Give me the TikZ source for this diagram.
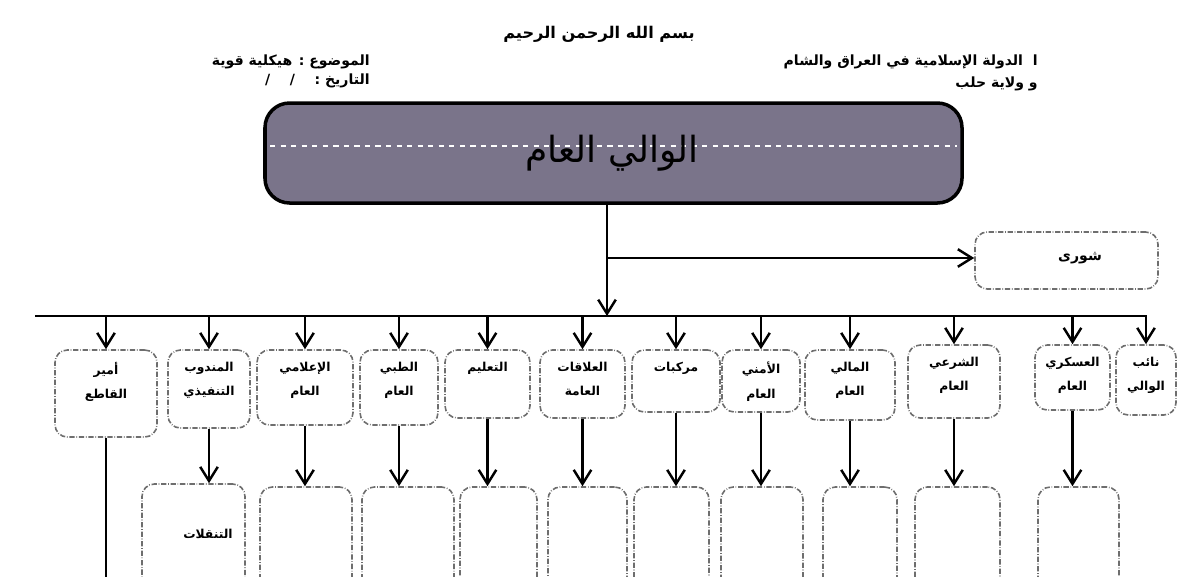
\documentclass[tikz,border=0pt]{standalone}
\usepackage{fontspec}
\usetikzlibrary{positioning,fit,arrows.meta}
\TeXXeTstate=1
\newfontfamily\arabicfont[Script=Arabic]{DejaVu Sans}
\newcommand{\ar}[1]{\beginR #1\endR}
\definecolor{boxgray}{RGB}{110,110,110}
\definecolor{walifill}{RGB}{122,116,138}
\newcommand{\unitbox}[4]{
	\node[unit, fit={#2 #3}] (#1) {};
	\node[unittext, below=6pt of #1.north] (#1-t) {#4};
}

\begin{document}
\begin{tikzpicture}[x=0.02cm,y=-0.02cm,
	unit/.style={draw=boxgray, densely dash dot, line width=0.9pt, rounded corners=7pt, inner sep=0pt},
	unittext/.style={font=\arabicfont\bfseries\fontsize{7}{14}\selectfont, align=center, inner sep=1pt},
	headtext/.style={font=\arabicfont\bfseries\fontsize{8}{10}\selectfont, inner sep=0pt},
	arr/.style={line width=1.4pt, -{Straight Barb[length=8pt,width=10pt]}}]
	\useasboundingbox[fill=white] (0,0) rectangle (1200,576);
	\clip (0,0) rectangle (1200,576);

	% header
	\node[headtext, font=\arabicfont\bfseries\fontsize{9.2}{11}\selectfont] (basmala) at (599,34) {\ar{بسم الله الرحمن الرحيم}};
	\node[headtext, anchor=east] (subject) at (370,62) {\ar{الموضوع : هيكلية قوية}};
	\node[headtext, anchor=east] (date) at (370,81) {\ar{التاريخ :~~~~/~~~~/}};
	\node[headtext, anchor=east] (state) at (1038,62) {\ar{ا~ الدولة الإسلامية في العراق والشام}};
	\node[headtext, anchor=east] (wilaya) at (1038,84) {\ar{و ولاية حلب}};

	% wali
	\node[draw, line width=2pt, fill=walifill, rounded corners=14pt, inner sep=0pt,
		fit={(265,103) (962,203)}] (wali) {};
	\draw[white, dashed, line width=0.8pt] (270,146) -- (957,146);
	\node[font=\arabicfont\fontsize{20.5}{24}\selectfont] (wali-t) at (612,153) {\ar{الوالي العام}};

	% shura
	\node[unit, fit={(975,232) (1158,289)}] (shura) {};
	\node[unittext, font=\arabicfont\bfseries\fontsize{8}{10}\selectfont] (shura-t) at (1080,258) {\ar{شورى}};

	\coordinate (fork) at (607,258);
	\coordinate (busmid) at (607,316);
	\coordinate (busL) at (35,316);
	\coordinate (busR) at (1147,316);
	\draw[line width=1.4pt] (fork |- wali.south) -- (fork);
	\draw[arr] (fork) -- (busmid);
	\draw[arr] (fork) -- (shura.west |- fork);
	\draw[line width=1.4pt] (busL) -- (busR);

	% units
	\unitbox{amir}{(55,350)}{(157,437)}{\ar{أمير}\\\ar{القاطع}}
	\unitbox{mandub}{(168,350)}{(250,428)}{\ar{المندوب}\\\ar{التنفيذي}}
	\unitbox{ilami}{(257,350)}{(353,425)}{\ar{الإعلامي}\\\ar{العام}}
	\unitbox{tibbi}{(360,350)}{(438,425)}{\ar{الطبي}\\\ar{العام}}
	\unitbox{talim}{(445,350)}{(530,418)}{\ar{التعليم}}
	\unitbox{alaqat}{(540,350)}{(625,418)}{\ar{العلاقات}\\\ar{العامة}}
	\unitbox{markabat}{(632,350)}{(720,412)}{\ar{مركبات}}
	\unitbox{amni}{(722,350)}{(800,412)}{\ar{الأمني}\\\ar{العام}}
	\unitbox{mali}{(805,350)}{(895,420)}{\ar{المالي}\\\ar{العام}}
	\unitbox{shari}{(908,345)}{(1000,418)}{\ar{الشرعي}\\\ar{العام}}
	\unitbox{askari}{(1035,345)}{(1110,410)}{\ar{العسكري}\\\ar{العام}}
	\unitbox{naib}{(1116,345)}{(1176,415)}{\ar{نائب}\\\ar{الوالي}}

	\draw[arr] (amir.north |- busL) -- (amir.north);
	\draw[arr] (mandub.north |- busL) -- (mandub.north);
	\draw[arr] (ilami.north |- busL) -- (ilami.north);
	\draw[arr] (tibbi.north |- busL) -- (tibbi.north);
	\draw[arr] (talim.north |- busL) -- (talim.north);
	\draw[arr] (alaqat.north |- busL) -- (alaqat.north);
	\draw[arr] (markabat.north |- busL) -- (markabat.north);
	\draw[arr] (amni.north |- busL) -- (amni.north);
	\draw[arr] (mali.north |- busL) -- (mali.north);
	\draw[arr] (shari.north |- busL) -- (shari.north);
	\draw[arr] (askari.north |- busL) -- (askari.north);
	\draw[arr] (naib.north |- busR) -- (naib.north);

	% sub units
	\node[unit, fit={(142,484) (245,640)}] (mandub-sub) {};
	\node[unittext] (mandub-sub-t) at (208,534) {\ar{التنقلات}};
	\node[unit, fit={(260,487) (352,640)}] (ilami-sub) {};
	\node[unit, fit={(362,487) (454,640)}] (tibbi-sub) {};
	\node[unit, fit={(460,487) (537,640)}] (talim-sub) {};
	\node[unit, fit={(548,487) (627,640)}] (alaqat-sub) {};
	\node[unit, fit={(634,487) (709,640)}] (markabat-sub) {};
	\node[unit, fit={(721,487) (803,640)}] (amni-sub) {};
	\node[unit, fit={(823,487) (897,640)}] (mali-sub) {};
	\node[unit, fit={(915,487) (1000,640)}] (shari-sub) {};
	\node[unit, fit={(1038,487) (1119,640)}] (askari-sub) {};

	\coordinate (amir-end) at (112,600);
	\draw[line width=1.4pt] (amir.south) -- (amir.south |- amir-end);
	\draw[arr] (mandub.south) -- (mandub.south |- mandub-sub.north);
	\draw[arr] (ilami.south) -- (ilami.south |- ilami-sub.north);
	\draw[arr] (tibbi.south) -- (tibbi.south |- tibbi-sub.north);
	\draw[arr] (talim.south) -- (talim.south |- talim-sub.north);
	\draw[arr] (alaqat.south) -- (alaqat.south |- alaqat-sub.north);
	\draw[arr] (markabat.south) -- (markabat.south |- markabat-sub.north);
	\draw[arr] (amni.south) -- (amni.south |- amni-sub.north);
	\draw[arr] (mali.south) -- (mali.south |- mali-sub.north);
	\draw[arr] (shari.south) -- (shari.south |- shari-sub.north);
	\draw[arr] (askari.south) -- (askari.south |- askari-sub.north);
\end{tikzpicture}
\end{document}
